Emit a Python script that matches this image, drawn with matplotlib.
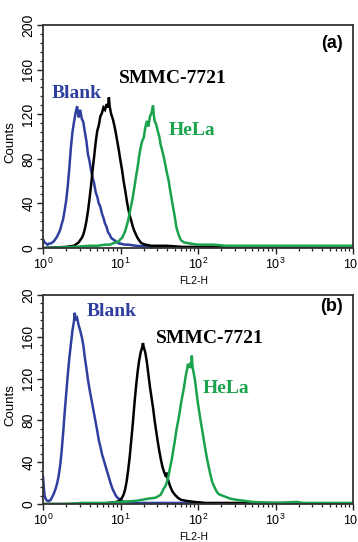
import numpy as np
import matplotlib
matplotlib.use("Agg")
import matplotlib.pyplot as plt
from matplotlib.ticker import LogLocator, MultipleLocator, FixedLocator, FixedFormatter, NullFormatter

plt.rcParams['font.family'] = ['Liberation Sans', 'DejaVu Sans']
plt.rcParams['mathtext.fontset'] = 'custom'
plt.rcParams['mathtext.rm'] = 'Liberation Sans'

# ---------------- data (log10 FL2-H, counts) ----------------
a_blank_log = [0.00, 0.02, 0.04, 0.06, 0.08, 0.10, 0.12, 0.14, 0.16, 0.18, 0.20, 0.22, 0.24, 0.26, 0.28,
               0.30, 0.32, 0.34, 0.36, 0.38, 0.40, 0.42, 0.44, 0.46, 0.48, 0.50, 0.52, 0.54, 0.56, 0.58,
               0.60, 0.62, 0.64, 0.66, 0.68, 0.70, 0.72, 0.74, 0.76, 0.78, 0.80, 0.82, 0.84, 0.86, 0.88,
               0.90, 0.92, 0.94, 0.96, 0.98, 1.00, 1.05, 1.10, 1.20, 1.40, 2.00, 4.00]
a_blank_cnt = [8, 5, 4, 3, 4, 4, 5, 6, 8, 10, 13, 16, 21, 26, 34,
               43, 56, 72, 90, 104, 113, 121, 127, 117, 124, 116, 113, 104, 96, 84,
               78, 70, 63, 58, 50, 46, 40, 37, 31, 27, 22, 19, 14, 12, 9,
               8, 7, 6, 5, 4, 4, 3, 3, 2, 1, 0, 0]

a_smmc_log = [0.00, 0.30, 0.40, 0.44, 0.46, 0.48, 0.50, 0.52, 0.54, 0.56, 0.58, 0.60, 0.62, 0.64, 0.66,
              0.68, 0.70, 0.72, 0.74, 0.76, 0.78, 0.80, 0.82, 0.84, 0.85, 0.86, 0.88, 0.90, 0.92, 0.94,
              0.96, 0.98, 1.00, 1.02, 1.04, 1.06, 1.08, 1.10, 1.12, 1.14, 1.16, 1.18, 1.20, 1.22, 1.24,
              1.26, 1.28, 1.32, 1.40, 1.60, 1.80, 2.20, 4.00]
a_smmc_cnt = [0, 1, 2, 4, 5, 7, 9, 12, 17, 24, 33, 44, 56, 70, 82,
              95, 105, 110, 118, 121, 126, 124, 129, 126, 135, 127, 120, 116, 110, 103,
              95, 87, 78, 70, 60, 52, 43, 35, 29, 24, 19, 15, 12, 9, 7,
              5, 4, 3, 2, 2, 1, 1, 0]

a_hela_log = [0.00, 0.40, 0.60, 0.70, 0.80, 0.86, 0.90, 0.94, 0.98, 1.00, 1.02, 1.04, 1.06, 1.08, 1.10,
              1.12, 1.14, 1.16, 1.18, 1.20, 1.22, 1.24, 1.26, 1.28, 1.30, 1.32, 1.34, 1.36, 1.38, 1.40,
              1.42, 1.43, 1.44, 1.46, 1.48, 1.50, 1.52, 1.54, 1.56, 1.58, 1.60, 1.62, 1.64, 1.66, 1.68,
              1.70, 1.72, 1.74, 1.76, 1.78, 1.82, 1.90, 2.00, 2.20, 2.35, 3.00, 4.00]
a_hela_cnt = [0, 1, 2, 2, 3, 3, 4, 5, 6, 8, 9, 12, 15, 20, 25,
              32, 39, 46, 55, 64, 72, 82, 90, 96, 99, 108, 114, 109, 118, 121,
              128, 119, 114, 111, 105, 100, 92, 87, 81, 74, 67, 61, 52, 44, 36,
              28, 19, 14, 10, 7, 5, 4, 3, 3, 2, 2, 2]

b_blank_log = [0.00, 0.01, 0.02, 0.04, 0.06, 0.08, 0.10, 0.12, 0.14, 0.16, 0.18, 0.20, 0.22, 0.24, 0.26,
               0.28, 0.30, 0.32, 0.34, 0.36, 0.38, 0.40, 0.41, 0.42, 0.44, 0.46, 0.48, 0.50, 0.52, 0.54,
               0.56, 0.58, 0.60, 0.62, 0.64, 0.66, 0.68, 0.70, 0.72, 0.74, 0.76, 0.78, 0.80, 0.82, 0.84,
               0.86, 0.88, 0.90, 0.92, 0.94, 0.96, 1.00, 1.05, 1.20, 2.00, 2.20, 4.00]
b_blank_cnt = [26, 16, 8, 4, 3, 3, 4, 7, 10, 14, 19, 26, 36, 50, 68,
               88, 106, 124, 140, 153, 166, 175, 183, 176, 178, 171, 166, 160, 152, 140,
               130, 119, 110, 102, 94, 86, 78, 70, 61, 55, 48, 43, 38, 33, 28,
               23, 18, 14, 11, 8, 6, 4, 2, 1, 1, 0, 0]

b_smmc_log = [0.00, 0.70, 0.85, 0.95, 0.98, 1.00, 1.02, 1.04, 1.06, 1.08, 1.10, 1.12, 1.14, 1.16, 1.18,
              1.20, 1.22, 1.24, 1.26, 1.28, 1.29, 1.30, 1.32, 1.34, 1.36, 1.38, 1.40, 1.42, 1.44, 1.46,
              1.48, 1.50, 1.52, 1.54, 1.56, 1.58, 1.59, 1.60, 1.61, 1.64, 1.67, 1.70, 1.74, 1.78, 1.85,
              1.95, 2.10, 3.00, 4.00]
b_smmc_cnt = [0, 0, 1, 2, 3, 4, 6, 9, 14, 22, 33, 46, 62, 78, 96,
              112, 126, 137, 145, 150, 154, 150, 145, 136, 124, 112, 102, 92, 80, 70,
              60, 51, 43, 36, 31, 27, 26, 30, 24, 17, 12, 9, 6, 4, 3,
              2, 1, 1, 0]

b_hela_log = [0.00, 0.30, 0.50, 0.80, 1.00, 1.20, 1.35, 1.45, 1.50, 1.52, 1.54, 1.56, 1.58, 1.60, 1.62,
              1.64, 1.66, 1.68, 1.70, 1.72, 1.74, 1.76, 1.78, 1.80, 1.82, 1.84, 1.86, 1.87, 1.88, 1.90,
              1.91, 1.92, 1.93, 1.94, 1.96, 1.98, 2.00, 2.02, 2.04, 2.06, 2.08, 2.10, 2.12, 2.14, 2.16,
              2.18, 2.20, 2.22, 2.24, 2.26, 2.28, 2.35, 2.42, 2.50, 2.60, 2.70, 3.00, 3.28, 3.35, 4.00]
b_hela_cnt = [0, 0, 1, 1, 2, 3, 5, 6, 8, 9, 12, 15, 17, 21, 27,
              35, 42, 51, 60, 70, 78, 86, 96, 104, 112, 122, 129, 134, 131, 135,
              130, 142, 131, 127, 119, 107, 96, 86, 77, 68, 59, 50, 42, 35, 28,
              22, 18, 15, 12, 10, 9, 7, 5, 4, 3, 2, 1, 2, 1, 1]

y_ticks = [0, 40, 80, 120, 160, 200]
a_ytick_labels = ['0', '40', '80', '120', '160', '200']
b_ytick_labels = ['0', '40', '80', '120', '160', '20']
series_names = ['Blank', 'SMMC-7721', 'HeLa']

BLUE = '#2f3f9f'
BLACK = '#000000'
GREEN = '#1aa24c'
colors = [BLUE, BLACK, GREEN]

fig = plt.figure(figsize=(3.58, 5.42), dpi=100)
axA = fig.add_axes([43/358, 1-248/542, 310/358, 223/542])
axB = fig.add_axes([43/358, 1-504/542, 310/358, 209/542])

panels = [
    (axA, [(a_blank_log, a_blank_cnt), (a_smmc_log, a_smmc_cnt), (a_hela_log, a_hela_cnt)], a_ytick_labels, '(a)',
     [(0.11, 0.695), (0.418, 0.762), (0.479, 0.529)], (0.932, 0.915), -0.148),
    (axB, [(b_blank_log, b_blank_cnt), (b_smmc_log, b_smmc_cnt), (b_hela_log, b_hela_cnt)], b_ytick_labels, '(b)',
     [(0.223, 0.923), (0.539, 0.794), (0.590, 0.555)], (0.932, 0.947), -0.158),
]

for ax, curves, ylabels, tag, lab_pos, tag_pos, xl_y in panels:
    for (lx, cy), c in zip(curves, colors):
        ax.plot(10 ** np.array(lx), cy, color=c, lw=1.8, solid_joinstyle='miter')
    ax.set_xscale('log')
    ax.set_xlim(1, 1e4)
    ax.set_ylim(0, 200)
    ax.xaxis.set_major_locator(LogLocator(base=10, numticks=10))
    ax.xaxis.set_minor_locator(LogLocator(base=10, subs=np.arange(2, 10), numticks=50))
    ax.xaxis.set_minor_formatter(NullFormatter())
    ax.yaxis.set_major_locator(FixedLocator(y_ticks))
    ax.yaxis.set_major_formatter(FixedFormatter(ylabels))
    ax.yaxis.set_minor_locator(MultipleLocator(8))
    ax.tick_params(axis='both', which='major', direction='out', length=4, width=1.0, color='#222222')
    ax.tick_params(axis='both', which='minor', direction='out', length=2.5, width=0.9, color='#222222')
    ax.tick_params(axis='x', which='major', labelsize=9, pad=2.5)
    ax.tick_params(axis='y', which='major', labelsize=10, pad=1.5)
    for lab in ax.get_yticklabels():
        lab.set_rotation(90)
        lab.set_va('center')
    for sp in ax.spines.values():
        sp.set_linewidth(1.3)
        sp.set_color('#333333')
    ax.set_ylabel('Counts', fontsize=9.5)
    ax.yaxis.set_label_coords(-0.087, 0.475)
    ax.text(0.487, xl_y, 'FL2-H', transform=ax.transAxes, ha='center', va='center', fontsize=7.5)
    for name, (tx, ty), c in zip(series_names, lab_pos, colors):
        ax.text(tx, ty, name, transform=ax.transAxes, ha='center', va='center', color=c,
                fontsize=14, fontweight='bold', family='Liberation Serif')
    ax.text(tag_pos[0], tag_pos[1], tag, transform=ax.transAxes, ha='center', va='center',
            fontsize=13, fontweight='bold')

fig.savefig('out.png', dpi=100)
